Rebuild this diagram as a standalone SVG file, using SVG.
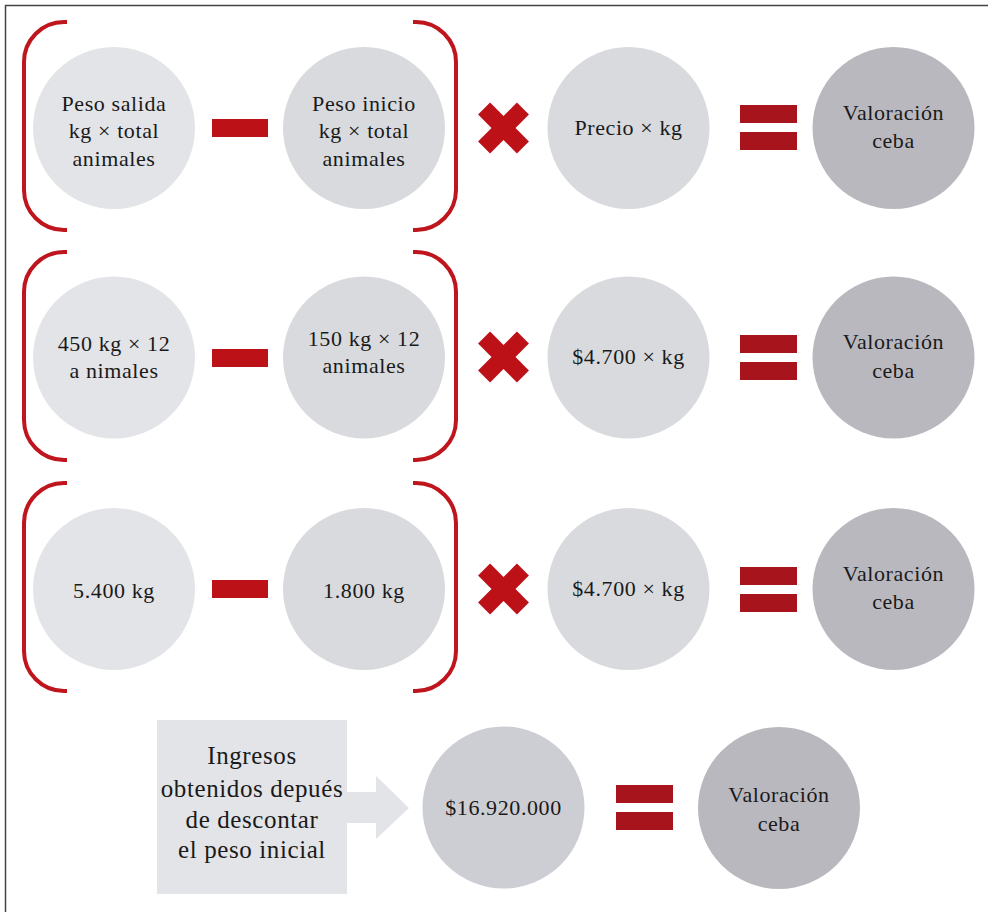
<svg xmlns="http://www.w3.org/2000/svg" width="988" height="912" viewBox="0 0 988 912">
  <style>
    .t { font-family: "Liberation Serif", "Times New Roman", serif; font-size: 22px; letter-spacing: 0.6px; fill: #1a1a1a; text-anchor: middle; }
    .tb { font-size: 25px; }
    .c1 { fill: #e3e4e8; }
    .c2 { fill: #d9dade; }
    .c3 { fill: #d9dade; }
    .c4 { fill: #b9b8bf; }
    .c5 { fill: #cdced3; }
    .br { fill: none; stroke: #bf151d; stroke-width: 4; }
    .minus { fill: #bd1118; }
    .times { fill: #bd1118; }
    .eq { fill: #a8141c; }
  </style>
  <defs>
    <g id="xmark">
      <rect x="-27.5" y="-8.5" width="55" height="17" transform="rotate(45)"/>
      <rect x="-27.5" y="-8.5" width="55" height="17" transform="rotate(-45)"/>
    </g>
    <g id="eqmark">
      <rect x="0" y="0" width="57" height="18"/>
      <rect x="0" y="27" width="57" height="18"/>
    </g>
    <path id="lbr" d="M67,0 H64 A40,40 0 0 0 24,40 V168 A40,40 0 0 0 64,208 H67"/>
    <path id="rbr" d="M413,0 H416 A40,40 0 0 1 456,40 V168 A40,40 0 0 1 416,208 H413"/>
  </defs>

  <rect x="5.5" y="5.5" width="1000" height="1000" fill="#fff" stroke="#444" stroke-width="1.5"/>

  <!-- operators: brackets, minus, times and equals signs -->
  <g id="connectors">
    <use href="#lbr" class="br" y="22"/>
    <use href="#rbr" class="br" y="22"/>
    <use href="#lbr" class="br" y="252"/>
    <use href="#rbr" class="br" y="252"/>
    <use href="#lbr" class="br" y="483"/>
    <use href="#rbr" class="br" y="483"/>

    <rect class="minus" x="212" y="119" width="56" height="18"/>
    <rect class="minus" x="212" y="349" width="56" height="18"/>
    <rect class="minus" x="212" y="580" width="56" height="18"/>

    <use href="#xmark" class="times" x="503.5" y="128"/>
    <use href="#xmark" class="times" x="503.5" y="357"/>
    <use href="#xmark" class="times" x="503.5" y="589"/>

    <use href="#eqmark" class="eq" x="740" y="105"/>
    <use href="#eqmark" class="eq" x="740" y="335"/>
    <use href="#eqmark" class="eq" x="740" y="567"/>
    <use href="#eqmark" class="eq" x="616" y="785"/>

    <polygon fill="#e3e4e8" points="347,792 376,792 376,776 409,808 376,839 376,823 347,823"/>
  </g>

  <!-- row 1 -->
  <g id="salida1">
    <circle class="c1" cx="114" cy="128" r="81"/>
    <text class="t" x="114" y="111">Peso salida</text>
    <text class="t" x="114" y="138">kg × total</text>
    <text class="t" x="114" y="166">animales</text>
  </g>
  <g id="inicio1">
    <circle class="c2" cx="364" cy="128" r="81"/>
    <text class="t" x="364" y="111">Peso inicio</text>
    <text class="t" x="364" y="138">kg × total</text>
    <text class="t" x="364" y="166">animales</text>
  </g>
  <g id="precio1">
    <circle class="c3" cx="628.5" cy="128" r="81"/>
    <text class="t" x="628.5" y="135">Precio × kg</text>
  </g>
  <g id="valor1">
    <circle class="c4" cx="893.5" cy="128" r="81"/>
    <text class="t" x="893.5" y="120">Valoración</text>
    <text class="t" x="893.5" y="148">ceba</text>
  </g>

  <!-- row 2 -->
  <g id="salida2">
    <circle class="c1" cx="114" cy="357.5" r="81"/>
    <text class="t" x="114" y="351">450 kg × 12</text>
    <text class="t" x="114" y="378">a nimales</text>
  </g>
  <g id="inicio2">
    <circle class="c2" cx="364" cy="357.5" r="81"/>
    <text class="t" x="364" y="346">150 kg × 12</text>
    <text class="t" x="364" y="373">animales</text>
  </g>
  <g id="precio2">
    <circle class="c3" cx="628.5" cy="357.5" r="81"/>
    <text class="t" x="628.5" y="364">$4.700 × kg</text>
  </g>
  <g id="valor2">
    <circle class="c4" cx="893.5" cy="357.5" r="81"/>
    <text class="t" x="893.5" y="349">Valoración</text>
    <text class="t" x="893.5" y="378">ceba</text>
  </g>

  <!-- row 3 -->
  <g id="salida3">
    <circle class="c1" cx="114" cy="589" r="81"/>
    <text class="t" x="114" y="598">5.400 kg</text>
  </g>
  <g id="inicio3">
    <circle class="c2" cx="364" cy="589" r="81"/>
    <text class="t" x="364" y="598">1.800 kg</text>
  </g>
  <g id="precio3">
    <circle class="c3" cx="628.5" cy="589" r="81"/>
    <text class="t" x="628.5" y="596">$4.700 × kg</text>
  </g>
  <g id="valor3">
    <circle class="c4" cx="893.5" cy="589" r="81"/>
    <text class="t" x="893.5" y="581">Valoración</text>
    <text class="t" x="893.5" y="609">ceba</text>
  </g>

  <!-- result row -->
  <g id="ingresos">
    <rect class="c1" x="157" y="720" width="190" height="174"/>
    <text class="t tb" x="252" y="764">Ingresos</text>
    <text class="t tb" x="252" y="797">obtenidos depués</text>
    <text class="t tb" x="252" y="828">de descontar</text>
    <text class="t tb" x="252" y="858">el peso inicial</text>
  </g>
  <g id="total">
    <circle class="c5" cx="503.5" cy="807.5" r="81"/>
    <text class="t" x="503.5" y="815">$16.920.000</text>
  </g>
  <g id="valor4">
    <circle class="c4" cx="779" cy="808" r="81"/>
    <text class="t" x="779" y="802">Valoración</text>
    <text class="t" x="779" y="831">ceba</text>
  </g>
</svg>
